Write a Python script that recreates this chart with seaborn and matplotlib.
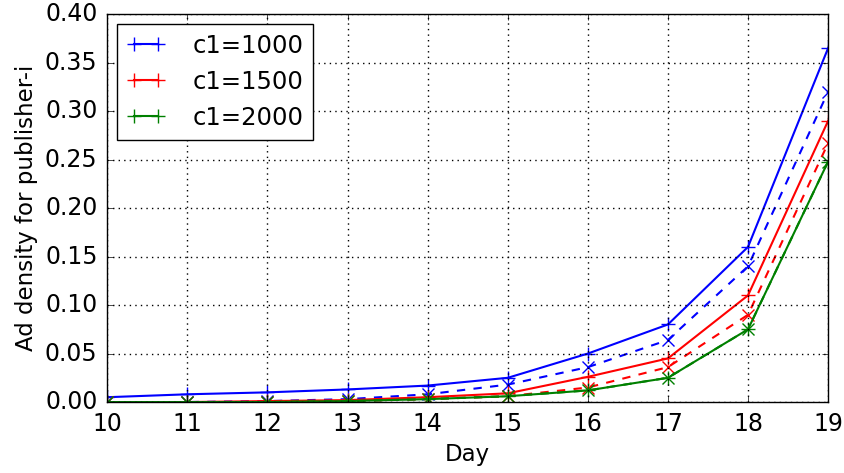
import matplotlib
matplotlib.use("Agg")
import matplotlib.pyplot as plt
import seaborn as sns
import pandas as pd

days = [10, 11, 12, 13, 14, 15, 16, 17, 18, 19]
labels = ["c1=1000", "c1=1500", "c1=2000"]
colors = ["b", "r", "g"]

# solid lines ('+' markers)
solid_1000 = [0.005, 0.008, 0.010, 0.013, 0.017, 0.025, 0.050, 0.080, 0.160, 0.365]
solid_1500 = [0.000, 0.000, 0.001, 0.002, 0.005, 0.009, 0.026, 0.045, 0.110, 0.290]
solid_2000 = [0.000, 0.000, 0.000, 0.001, 0.003, 0.006, 0.012, 0.025, 0.075, 0.248]
# dashed lines ('x' markers)
dashed_1000 = [0.000, 0.000, 0.001, 0.003, 0.008, 0.018, 0.036, 0.064, 0.140, 0.320]
dashed_1500 = [0.000, 0.000, 0.000, 0.001, 0.003, 0.006, 0.015, 0.036, 0.090, 0.267]
dashed_2000 = [0.000, 0.000, 0.000, 0.001, 0.003, 0.006, 0.012, 0.025, 0.075, 0.248]

plt.style.use("classic")
fig = plt.figure(figsize=(8.45, 4.73), dpi=100)
ax = fig.add_axes([0.127, 0.150, 0.853, 0.820])

solids = [solid_1000, solid_1500, solid_2000]
dashes = [dashed_1000, dashed_1500, dashed_2000]
for lab, col, s, d in zip(labels, colors, solids, dashes):
    df = pd.DataFrame({"Day": days, "solid": s, "dashed": d})
    sns.lineplot(data=df, x="Day", y="solid", ax=ax, color=col, marker="+",
                 markersize=10, markeredgewidth=1.0, markeredgecolor=col,
                 linewidth=1.5, label=lab)
    sns.lineplot(data=df, x="Day", y="dashed", ax=ax, color=col, marker="x",
                 markersize=9, markeredgewidth=1.0, markeredgecolor=col,
                 linewidth=1.5, linestyle="--", dashes=(6, 3.5))

handles = [ln for ln in ax.lines if ln.get_label() in labels and len(ln.get_xdata()) > 0]

ax.set_xlim(10, 19)
ax.set_ylim(0, 0.40)
ax.set_xticks(days)
ax.set_yticks([0.0, 0.05, 0.10, 0.15, 0.20, 0.25, 0.30, 0.35, 0.40])
ax.set_yticklabels(["0.00", "0.05", "0.10", "0.15", "0.20", "0.25", "0.30", "0.35", "0.40"])
ax.tick_params(labelsize=17, pad=7)
ax.grid(True, color="k", linestyle=":", linewidth=1.0)
ax.set_xlabel("Day", fontsize=16.5)
ax.set_ylabel("Ad density for publisher-i", fontsize=16.5)
ax.legend(handles=handles, labels=labels, loc="upper left", fontsize=17.5,
          numpoints=2, handlelength=1.6, handletextpad=1.1, borderaxespad=0.4)

fig.savefig("out.png", dpi=100)
